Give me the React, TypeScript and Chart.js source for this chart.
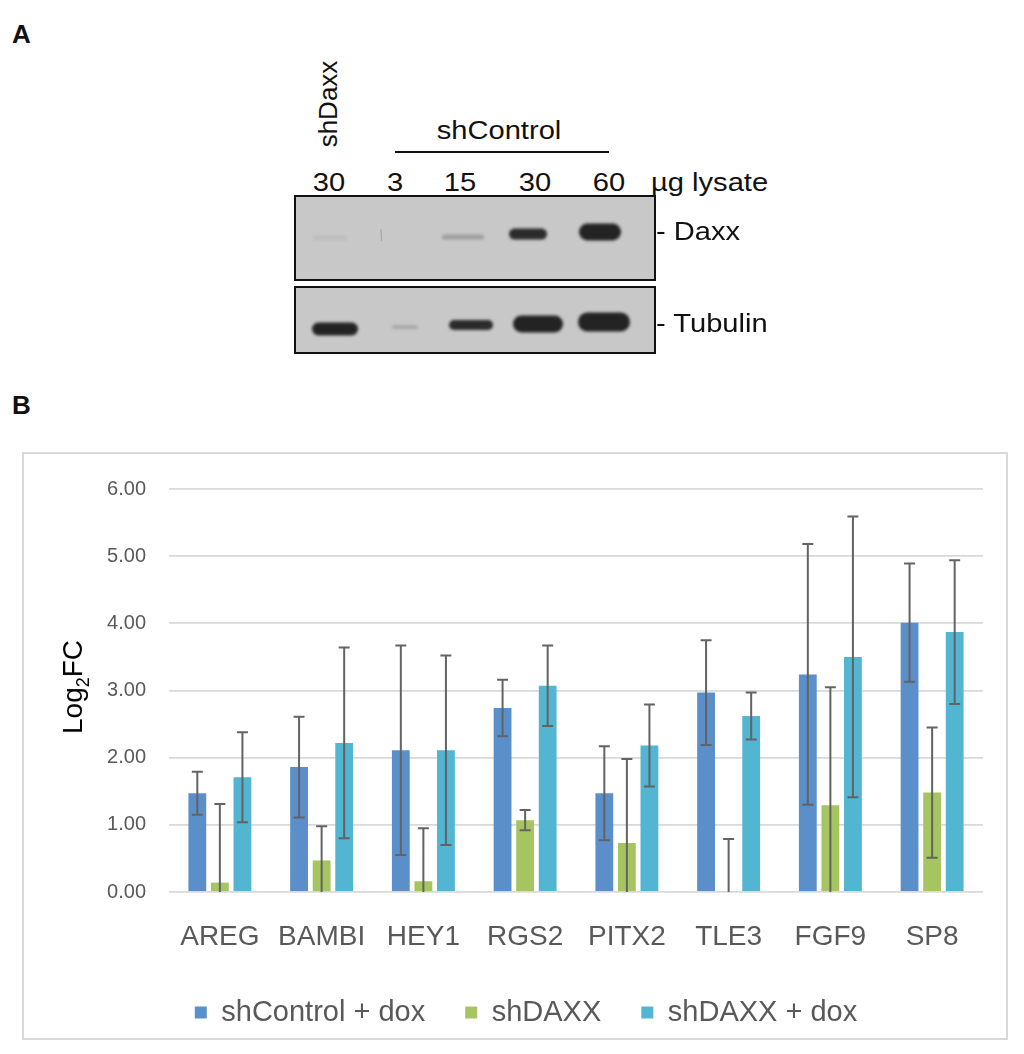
import { useEffect, useRef } from 'react'
import {
  Chart,
  BarController,
  BarElement,
  CategoryScale,
  LinearScale,
  Legend,
} from 'chart.js'

Chart.register(BarController, BarElement, CategoryScale, LinearScale, Legend)

// ---- panel B data ----
const GENES = ['AREG', 'BAMBI', 'HEY1', 'RGS2', 'PITX2', 'TLE3', 'FGF9', 'SP8']
const SERIES_NAMES = ['shControl + dox', 'shDAXX', 'shDAXX + dox']
const SHCONTROL_DOX = [1.47, 1.86, 2.11, 2.74, 1.47, 2.97, 3.24, 4.01]
const SHCONTROL_DOX_ERR = [0.32, 0.75, 1.56, 0.42, 0.7, 0.78, 1.94, 0.88]
const SHDAXX = [0.14, 0.47, 0.16, 1.07, 0.73, 0.0, 1.29, 1.48]
const SHDAXX_ERR = [1.17, 0.51, 0.79, 0.15, 1.25, 0.79, 1.76, 0.97]
const SHDAXX_DOX = [1.71, 2.22, 2.11, 3.07, 2.18, 2.62, 3.5, 3.87]
const SHDAXX_DOX_ERR = [0.67, 1.42, 1.41, 0.6, 0.61, 0.35, 2.09, 1.07]
const Y_MIN = 0
const Y_MAX = 6

// ---- panel A labels ----
const LOAD_UG = ['30', '3', '15', '30', '60']
const LANE_X = [329, 395, 460, 535, 609]

const COLORS = ['#5B8FCA', '#A6C460', '#52B5D2']
const ERR_COLOR = '#636363'
const GRID_COLOR = '#d9d9d9'
const TEXT_GRAY = '#595959'
const FONT = "'Liberation Sans', Arial, sans-serif"

const errorBars = {
  id: 'errorBars',
  afterDatasetsDraw(chart: any) {
    const { ctx, chartArea, scales } = chart
    const y = scales.y
    const cap = 5.5
    ctx.save()
    ctx.beginPath()
    ctx.rect(chartArea.left, chartArea.top - 10, chartArea.width, chartArea.height + 10)
    ctx.clip()
    ctx.strokeStyle = ERR_COLOR
    ctx.lineWidth = 2
    chart.data.datasets.forEach((ds: any, di: number) => {
      const meta = chart.getDatasetMeta(di)
      meta.data.forEach((bar: any, i: number) => {
        const v = ds.data[i]
        const e = ds.errors[i]
        const x = bar.x
        const top = y.getPixelForValue(v + e)
        const low = v - e
        const bot = y.getPixelForValue(Math.max(low, Y_MIN))
        ctx.beginPath()
        ctx.moveTo(x, top)
        ctx.lineTo(x, bot)
        ctx.moveTo(x - cap, top)
        ctx.lineTo(x + cap, top)
        if (low >= Y_MIN) {
          ctx.moveTo(x - cap, bot)
          ctx.lineTo(x + cap, bot)
        }
        ctx.stroke()
      })
    })
    ctx.restore()
  },
}

function BarPanel() {
  const canvasRef = useRef<HTMLCanvasElement>(null)

  useEffect(() => {
    if (!canvasRef.current) return
    const values = [SHCONTROL_DOX, SHDAXX, SHDAXX_DOX]
    const errors = [SHCONTROL_DOX_ERR, SHDAXX_ERR, SHDAXX_DOX_ERR]
    const chart = new Chart(canvasRef.current, {
      type: 'bar',
      data: {
        labels: GENES,
        datasets: SERIES_NAMES.map((name, i) => ({
          label: name,
          data: values[i],
          errors: errors[i],
          backgroundColor: COLORS[i],
          borderWidth: 0,
          categoryPercentage: 0.665,
          barPercentage: 0.79,
        })) as any,
      },
      options: {
        animation: false,
        responsive: true,
        maintainAspectRatio: false,
        events: [],
        layout: { padding: { top: 27, right: 23, bottom: 1, left: 45 } },
        plugins: {
          tooltip: { enabled: false },
          legend: {
            position: 'bottom',
            labels: {
              boxWidth: 12,
              boxHeight: 12,
              padding: 40,
              color: TEXT_GRAY,
              font: { family: FONT, size: 29 },
            },
          },
        },
        scales: {
          x: {
            grid: { display: false, drawTicks: false },
            border: { display: false },
            ticks: {
              color: TEXT_GRAY,
              font: { family: FONT, size: 28 },
              padding: 28,
              autoSkip: false,
              maxRotation: 0,
            },
            afterFit(scale: any) {
              scale.height = 66
            },
          },
          y: {
            min: Y_MIN,
            max: Y_MAX,
            grid: { color: GRID_COLOR, lineWidth: 1.8, drawTicks: false },
            border: { display: false },
            ticks: {
              stepSize: 1,
              color: TEXT_GRAY,
              font: { family: FONT, size: 20 },
              padding: 23,
              callback: (v: any) => Number(v).toFixed(2),
            },
            afterFit(scale: any) {
              scale.width = 100
            },
          },
        },
      },
      plugins: [errorBars],
    })
    return () => chart.destroy()
  }, [])

  return (
    <div
      style={{
        position: 'absolute',
        left: 22,
        top: 452,
        width: 986,
        height: 588,
        border: `2px solid ${GRID_COLOR}`,
        boxSizing: 'border-box',
      }}
    >
      <div style={{ position: 'absolute', left: 0, top: 0, width: 982, height: 584 }}>
        <canvas ref={canvasRef} />
      </div>
    </div>
  )
}

// bands on the western blot: [centre x, centre y, width, height, opacity]
const DAXX_BANDS = [
  [330, 238, 34, 5, 0.06],
  [463, 237, 42, 5, 0.25],
  [528, 234, 38, 11, 0.95],
  [600, 232, 42, 17, 1],
]
const TUBULIN_BANDS = [
  [335, 329, 46, 13, 1],
  [405, 327, 26, 4, 0.18],
  [471, 325, 44, 10, 0.95],
  [538, 324, 50, 17, 1],
  [604, 322, 52, 19, 1],
]

function BlotPanel() {
  const ref = useRef<HTMLCanvasElement>(null)

  useEffect(() => {
    const c = ref.current
    if (!c) return
    const ox = 293
    const oy = 194
    const ctx = c.getContext('2d')!
    ctx.clearRect(0, 0, c.width, c.height)
    const boxes = [
      [295, 196, 360, 84],
      [295, 287, 360, 66],
    ]
    boxes.forEach(([x, y, w, h]) => {
      ctx.fillStyle = '#c8c8c8'
      ctx.fillRect(x - ox, y - oy, w, h)
    })
    const band = (b: number[]) => {
      const [cx, cy, w, h, a] = b
      ctx.save()
      ctx.globalAlpha = a
      ctx.filter = 'blur(1.8px)'
      ctx.fillStyle = '#232323'
      ctx.beginPath()
      ctx.roundRect(cx - w / 2 - ox, cy - h / 2 - oy, w, h, h / 2)
      ctx.fill()
      ctx.restore()
    }
    DAXX_BANDS.forEach(band)
    TUBULIN_BANDS.forEach(band)
    // small streak in lane 2 of the Daxx blot
    ctx.save()
    ctx.globalAlpha = 0.35
    ctx.strokeStyle = '#555'
    ctx.lineWidth = 1
    ctx.beginPath()
    ctx.moveTo(381 - ox, 229 - oy)
    ctx.lineTo(381.5 - ox, 241 - oy)
    ctx.stroke()
    ctx.restore()
    ctx.strokeStyle = '#111'
    ctx.lineWidth = 2
    boxes.forEach(([x, y, w, h]) => {
      ctx.strokeRect(x - ox, y - oy, w, h)
    })
  }, [])

  return (
    <canvas
      ref={ref}
      width={366}
      height={164}
      style={{ position: 'absolute', left: 293, top: 194, width: 366, height: 164 }}
    />
  )
}

function Txt({
  x,
  y,
  size = 26,
  anchor = 'middle',
  bold = false,
  rotate = 0,
  color = '#111',
  stretch = 1.12,
  children,
}: any) {
  const tx = anchor === 'middle' ? '-50%' : '0'
  return (
    <div
      style={{
        position: 'absolute',
        left: x,
        top: y,
        transform: `translate(${tx}, -50%) rotate(${rotate}deg) scaleX(${stretch})`,
        transformOrigin: anchor === 'middle' ? 'center' : 'left center',
        fontFamily: FONT,
        fontSize: size,
        fontWeight: bold ? 700 : 400,
        lineHeight: 1,
        whiteSpace: 'nowrap',
        color,
      }}
    >
      {children}
    </div>
  )
}

export default function App() {
  return (
    <div
      style={{
        position: 'absolute',
        left: 0,
        top: 0,
        width: 1024,
        height: 1054,
        background: '#fff',
        overflow: 'hidden',
      }}
    >
      <Txt x={12} y={34} size={26} bold anchor="start" stretch={1}>
        A
      </Txt>
      <Txt x={328} y={104} rotate={-90} stretch={1}>
        shDaxx
      </Txt>
      <Txt x={499} y={130}>shControl</Txt>
      <div
        style={{
          position: 'absolute',
          left: 395,
          top: 151,
          width: 214,
          height: 2,
          background: '#111',
        }}
      />
      {LOAD_UG.map((t, i) => (
        <Txt key={i} x={LANE_X[i]} y={182}>
          {t}
        </Txt>
      ))}
      <Txt x={651} y={182} anchor="start">
        µg lysate
      </Txt>
      <BlotPanel />
      <Txt x={656} y={231} anchor="start">
        - Daxx
      </Txt>
      <Txt x={656} y={323} anchor="start">
        - Tubulin
      </Txt>

      <Txt x={12} y={405} size={26} bold anchor="start" stretch={1}>
        B
      </Txt>
      <BarPanel />
      <Txt x={73} y={687} size={28} rotate={-90} stretch={1} color="#000">
        Log<sub style={{ fontSize: 18, verticalAlign: 'baseline', position: 'relative', top: 7 }}>2</sub>FC
      </Txt>
    </div>
  )
}
